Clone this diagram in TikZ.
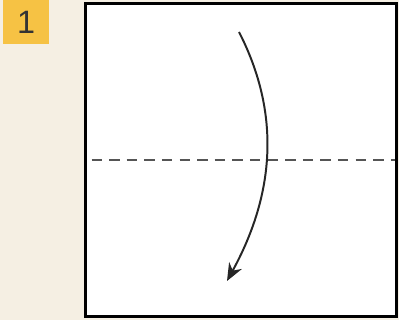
\documentclass[tikz,border=0pt]{standalone}
\usepackage{fontspec}
\setmainfont{Liberation Sans}
\usetikzlibrary{arrows.meta, positioning}
\definecolor{paperBg}{HTML}{F5EFE3}
\definecolor{stepYellow}{HTML}{F6C244}
\definecolor{foldGray}{HTML}{555555}
\tikzset{
  >={Stealth[length=4.4mm, width=3.6mm]},
  stepnum/.style={fill=stepYellow, minimum width=1.15cm, minimum height=1.1cm,
    inner sep=0pt, font=\fontsize{23}{23}\selectfont, text=black!80},
  sheet/.style={draw=black, line width=2.1pt, fill=white,
    minimum width=7.75cm, minimum height=7.8cm, inner sep=0pt},
  valley/.style={draw=foldGray, line width=1.3pt, dash pattern=on 0.26cm off 0.18cm},
  foldarrow/.style={->, line width=1.4pt, draw=black!85},
}
\begin{document}
\begin{tikzpicture}[x=0.025cm, y=-0.025cm]

  % ---- background and bounding box ----------------------------------------
  \fill[paperBg] (0,0) rectangle (399,320);
  \useasboundingbox (0,0) rectangle (399,320);

  % ---- step number and sheet ----------------------------------------------
  \node[stepnum] (num)   at (26,22)  {1};
  \node[sheet]   (paper) at (241,160) {};

  % ---- valley fold line ----------------------------------------------------
  \coordinate (foldL) at (paper.west |- 0,160);
  \coordinate (foldR) at (paper.east |- 0,160);
  \draw[valley] ([xshift=5pt]foldL) -- ([xshift=-2pt]foldR);

  % ---- fold arrow ----------------------------------------------------------
  \coordinate (arrS) at (239,32);
  \coordinate (arrE) at (227,281);
  \draw[foldarrow] (arrS) .. controls (278,108) and (278,188) .. (arrE);

\end{tikzpicture}
\end{document}
